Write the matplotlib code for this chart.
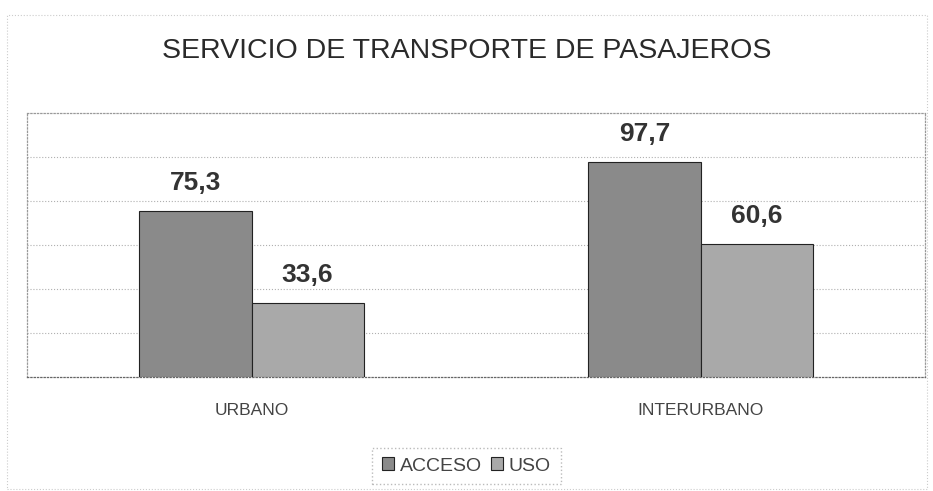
import matplotlib.pyplot as plt
import matplotlib.patches as mpatches
import numpy as np

plt.rcParams['font.family'] = ['Liberation Sans', 'DejaVu Sans']

categorias = ['URBANO', 'INTERURBANO']
acceso = [75.3, 97.7]
uso = [33.6, 60.6]
etiquetas_acceso = ['75,3', '97,7']
etiquetas_uso = ['33,6', '60,6']

fig = plt.figure(figsize=(9.33, 4.91), dpi=100)
ax = fig.add_axes([27 / 933, 114 / 491, 898 / 933, 264 / 491])

x = np.arange(len(categorias))
ancho = 0.25

b1 = ax.bar(x - ancho / 2, acceso, ancho, color='#8a8a8a', edgecolor='#222222',
            linewidth=0.8, label='ACCESO', zorder=3)
b2 = ax.bar(x + ancho / 2, uso, ancho, color='#a9a9a9', edgecolor='#222222',
            linewidth=0.8, label='USO', zorder=3)

# valores encima de cada barra
for barras, textos in [(b1, etiquetas_acceso), (b2, etiquetas_uso)]:
    for rect, txt in zip(barras, textos):
        ax.text(rect.get_x() + rect.get_width() / 2, rect.get_height() + 9.5, txt,
                ha='center', va='baseline', fontsize=19, fontweight='bold',
                color='#333333')

ax.set_xlim(-0.5, 1.5)
ax.set_ylim(0, 120)
ax.set_yticks([20, 40, 60, 80, 100])
ax.yaxis.grid(True, linestyle=':', color='#b0b0b0', linewidth=0.8, zorder=0)
ax.tick_params(axis='y', left=False, labelleft=False)
ax.set_xticks(x)
ax.set_xticklabels(categorias, fontsize=12.5, color='#444444')
ax.tick_params(axis='x', length=0, pad=19)
for s in ax.spines.values():
    s.set_linestyle(':')
    s.set_color('#999999')
    s.set_linewidth(0.9)
ax.spines['bottom'].set_color('#666666')

fig.text(0.5, 1 - 51 / 491, 'SERVICIO DE TRANSPORTE DE PASAJEROS', ha='center',
         va='center', fontsize=20.5, color='#2a2a2a')

leg = fig.legend(handles=[b1, b2], loc='center', bbox_to_anchor=(0.5, 1 - 466 / 491),
                 ncol=2, fontsize=14, frameon=True, handlelength=0.6, handleheight=0.6,
                 handletextpad=0.3, columnspacing=0.5, borderpad=0.5)
leg.get_frame().set_edgecolor('#aaaaaa')
leg.get_frame().set_linestyle(':')
leg.get_frame().set_boxstyle('square', pad=0)
for t in leg.get_texts():
    t.set_color('#444444')

# marco exterior del gráfico
fig.patches.append(mpatches.Rectangle((7 / 933, 0.005), 920 / 933, 1 - 15 / 491 - 0.005,
                                      transform=fig.transFigure, fill=False,
                                      linestyle=':', edgecolor='#cccccc', linewidth=0.8))

fig.savefig('out.png', dpi=100)
